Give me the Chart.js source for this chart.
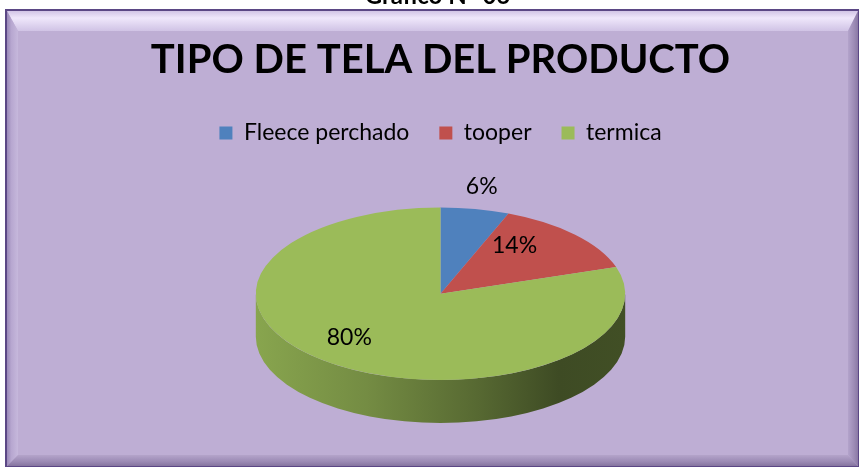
<!DOCTYPE html>
<html><head><meta charset="utf-8">
<script src="https://cdn.jsdelivr.net/npm/chart.js@4/dist/chart.umd.min.js"></script>
<style>html,body{margin:0;padding:0;background:#fff}#c{display:block}</style>
</head><body>
<canvas id="c" width="861" height="468"></canvas>
<script>
// ---- data ----
const headerText = 'Gráfico N° 06';
const chartTitle = 'TIPO DE TELA DEL PRODUCTO';
const categories = ['Fleece perchado', 'tooper', 'termica'];
const values = [6, 14, 80];
const valueLabels = ['6%', '14%', '80%'];

// ---- styles ----
const sliceColors = ['#4F81BD', '#C0504D', '#9BBB59'];
const bgColor = '#BEAED4';
const TILT = 0.467;     // vertical squash of the 3D pie top
const DEPTH = 43;       // thickness of the 3D pie
const labelFactors = [[1.19, 1.27], [0.55, 0.81], [0.84, 0.63]]; // radial placement of the value labels

function shade(hex, f) {
  const n = parseInt(hex.slice(1), 16);
  const r = Math.round(((n >> 16) & 255) * f), g = Math.round(((n >> 8) & 255) * f), b = Math.round((n & 255) * f);
  return `rgb(${r},${g},${b})`;
}

const framePlugin = {
  id: 'frame',
  beforeDraw(chart) {
    const ctx = chart.ctx, W = chart.width, H = chart.height;
    ctx.save();
    ctx.fillStyle = '#ffffff'; ctx.fillRect(0, 0, W, H);
    const L = 5, T = 9, R = W - 2, B = H - 1;
    ctx.fillStyle = '#5B4785'; ctx.fillRect(L, T, R - L, B - T);
    const l = L + 2, t = T + 2, r = R - 1, b = B - 1;
    ctx.fillStyle = bgColor; ctx.fillRect(l, t, r - l, b - t);
    const bl = 11, bt = 20, br = 10, bb = 11;
    // top bevel
    let g = ctx.createLinearGradient(0, t, 0, t + bt);
    g.addColorStop(0, '#D2C5E6'); g.addColorStop(0.35, '#EFE7FB'); g.addColorStop(1, '#D0C3E5');
    ctx.fillStyle = g;
    ctx.beginPath(); ctx.moveTo(l, t); ctx.lineTo(r, t); ctx.lineTo(r - br, t + bt); ctx.lineTo(l + bl, t + bt); ctx.closePath(); ctx.fill();
    // left bevel
    g = ctx.createLinearGradient(l, 0, l + bl, 0);
    g.addColorStop(0, '#9A89B8'); g.addColorStop(0.4, '#B7A7D0'); g.addColorStop(1, '#C6B8DC');
    ctx.fillStyle = g;
    ctx.beginPath(); ctx.moveTo(l, t); ctx.lineTo(l + bl, t + bt); ctx.lineTo(l + bl, b - bb); ctx.lineTo(l, b); ctx.closePath(); ctx.fill();
    // right bevel
    g = ctx.createLinearGradient(r - br, 0, r, 0);
    g.addColorStop(0, '#B3A3CB'); g.addColorStop(0.6, '#9D8CB6'); g.addColorStop(1, '#8A79A5');
    ctx.fillStyle = g;
    ctx.beginPath(); ctx.moveTo(r, t); ctx.lineTo(r, b); ctx.lineTo(r - br, b - bb); ctx.lineTo(r - br, t + bt); ctx.closePath(); ctx.fill();
    // bottom bevel
    g = ctx.createLinearGradient(0, b - bb, 0, b);
    g.addColorStop(0, '#B4A4CA'); g.addColorStop(0.6, '#9B8AB4'); g.addColorStop(1, '#85749F');
    ctx.fillStyle = g;
    ctx.beginPath(); ctx.moveTo(l, b); ctx.lineTo(l + bl, b - bb); ctx.lineTo(r - br, b - bb); ctx.lineTo(r, b); ctx.closePath(); ctx.fill();
    ctx.restore();
  },
  afterDraw(chart) {
    const ctx = chart.ctx, a = chart.chartArea;
    ctx.save();
    ctx.fillStyle = '#000';
    ctx.font = 'bold 24px Lato';
    ctx.textAlign = 'center';
    ctx.textBaseline = 'alphabetic';
    ctx.fillText(headerText, (a.left + a.right) / 2 - 3, 4);
    ctx.restore();
  }
};

const legendGap = {
  id: 'legendGap',
  beforeInit(chart) {
    const fit = chart.legend.fit;
    chart.legend.fit = function () { fit.bind(chart.legend)(); this.height += 53; };
  }
};

const pie3d = {
  id: 'pie3d',
  geom(chart) {
    const a = chart.chartArea;
    const ry = (a.bottom - a.top - DEPTH) / 2;
    const rx = ry / TILT;
    return { cx: (a.left + a.right) / 2, cy: a.top + ry, rx, ry };
  },
  beforeDatasetsDraw(chart) {
    const ctx = chart.ctx;
    const meta = chart.getDatasetMeta(0);
    const g = this.geom(chart);
    // sides (front half only)
    ctx.save();
    meta.data.forEach((arc, i) => {
      const s = arc.startAngle, e = arc.endAngle;
      [-2 * Math.PI, 0, 2 * Math.PI].forEach(k => {
        const lo = Math.max(s, k), hi = Math.min(e, Math.PI + k);
        if (hi <= lo) return;
        const a0 = lo - k, a1 = hi - k;
        const grad = ctx.createLinearGradient(g.cx - g.rx, 0, g.cx + g.rx, 0);
        const c = sliceColors[i];
        grad.addColorStop(0, shade(c, 0.88));
        grad.addColorStop(0.3, shade(c, 0.75));
        grad.addColorStop(0.6, shade(c, 0.56));
        grad.addColorStop(0.82, shade(c, 0.40));
        grad.addColorStop(1, shade(c, 0.42));
        ctx.fillStyle = grad;
        ctx.beginPath();
        ctx.ellipse(g.cx, g.cy, g.rx, g.ry, 0, a0, a1, false);
        ctx.ellipse(g.cx, g.cy + DEPTH, g.rx, g.ry, 0, a1, a0, true);
        ctx.closePath();
        ctx.fill();
      });
    });
    ctx.restore();
    // squash the library's pie into the top ellipse
    const p = meta.data[0];
    const R = p.outerRadius;
    ctx.save();
    ctx.translate(g.cx, g.cy);
    ctx.scale(g.rx / R, g.ry / R);
    ctx.translate(-p.x, -p.y);
  },
  afterDatasetsDraw(chart) {
    const ctx = chart.ctx;
    ctx.restore();
    const g = this.geom(chart);
    const meta = chart.getDatasetMeta(0);
    ctx.save();
    ctx.fillStyle = '#000';
    ctx.font = '23px Lato';
    ctx.textAlign = 'center';
    ctx.textBaseline = 'middle';
    meta.data.forEach((arc, i) => {
      const m = (arc.startAngle + arc.endAngle) / 2;
      const [fx, fy] = labelFactors[i];
      ctx.fillText(valueLabels[i], g.cx + fx * g.rx * Math.cos(m), g.cy + fy * g.ry * Math.sin(m));
    });
    ctx.restore();
  }
};

new Chart(document.getElementById('c'), {
  type: 'pie',
  data: {
    labels: categories,
    datasets: [{ data: values, backgroundColor: sliceColors, borderWidth: 0, clip: false }]
  },
  options: {
    responsive: false,
    animation: false,
    events: [],
    layout: { padding: { top: 10, left: 20, right: 0, bottom: 45 } },
    plugins: {
      title: {
        display: true, text: chartTitle, color: '#000',
        font: { family: 'Lato', size: 40, weight: 'bold', lineHeight: 1.2 },
        padding: { top: 26, bottom: 7.5 }
      },
      legend: {
        display: true, position: 'top',
        labels: { color: '#000', boxWidth: 13, boxHeight: 13, padding: 30, font: { family: 'Lato', size: 23 } }
      },
      tooltip: { enabled: false }
    }
  },
  plugins: [framePlugin, legendGap, pie3d]
});
</script>
</body></html>
